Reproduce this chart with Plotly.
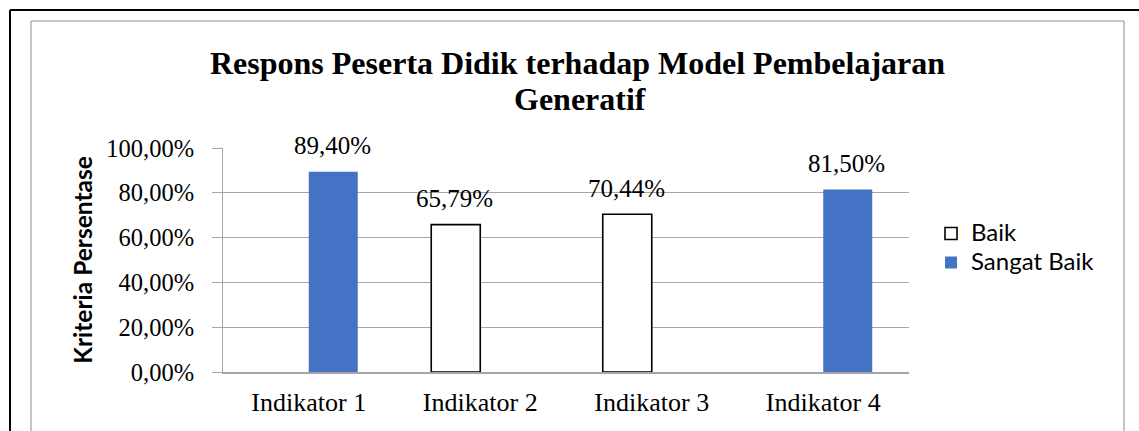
import plotly.graph_objects as go

categories = ["Indikator 1", "Indikator 2", "Indikator 3", "Indikator 4"]
baik = [None, 0.6579, 0.7044, None]
sangat_baik = [0.894, None, None, 0.815]
y_ticks = [0, 0.2, 0.4, 0.6, 0.8, 1.0]
title_line1 = "Respons Peserta Didik terhadap Model Pembelajaran"
title_line2 = "Generatif"
y_title = "Kriteria Persentase"

W, H = 1139, 431
L, R, T, B = 223, 230, 148, 59
PW, PH = W - L - R, H - T - B
BARGAP = 0.4286

def px(xp):
    return (xp - L) / PW

def py(yp):
    return (H - B - yp) / PH

SERIF = "Liberation Serif, Times New Roman, serif"
SANS = "Lato, Noto Sans, sans-serif"
BLUE = "#4472C4"
GRID = "#A6A6A6"

fig = go.Figure()
fig.add_trace(go.Bar(
    name="<span style='font-size:24px'>Baik</span>", x=categories, y=baik,
    marker=dict(color="white", line=dict(color="black", width=1.6)),
))
fig.add_trace(go.Bar(
    name="<span style='font-size:24px'>Sangat Baik</span>", x=categories, y=sangat_baik,
    marker=dict(color=BLUE, line=dict(width=0)),
))

# data labels placed above each bar (half a bar width left/right of category centre)
bar_w = PW / len(categories) * (1 - BARGAP) / 2
annotations = []
for series, shift in ((baik, -bar_w / 2), (sangat_baik, bar_w / 2)):
    for cat, v in zip(categories, series):
        if v is None:
            continue
        annotations.append(dict(
            x=cat, y=v, xref="x", yref="y", xshift=shift - 1, yshift=26,
            text=f"{v * 100:.2f}".replace(".", ",") + "%",
            showarrow=False, xanchor="center", yanchor="middle",
            font=dict(family=SERIF, size=25, color="black"),
        ))
annotations.append(dict(
    text="<b>" + title_line2 + "</b>", xref="paper", yref="paper",
    x=px(580), y=py(99), xanchor="center", yanchor="middle", showarrow=False,
    font=dict(family=SERIF, size=32, color="black"),
))

shapes = [
    dict(type="line", xref="paper", yref="paper", x0=px(10), x1=px(1139), y0=py(10), y1=py(10),
         line=dict(color="black", width=2)),
    dict(type="line", xref="paper", yref="paper", x0=px(10), x1=px(10), y0=py(10), y1=py(431),
         line=dict(color="black", width=2)),
    dict(type="rect", xref="paper", yref="paper", x0=px(31), x1=px(1124), y0=py(21), y1=py(440),
         line=dict(color="#8C8C8C", width=1)),
]

fig.update_layout(
    width=W, height=H,
    margin=dict(l=L, r=R, t=T, b=B),
    paper_bgcolor="white", plot_bgcolor="white",
    separators=",.",
    barmode="group", bargap=BARGAP, bargroupgap=0,
    title=dict(
        text="<b>" + title_line1 + "</b>",
        font=dict(family=SERIF, size=32, color="black"),
        x=577.5 / W, xanchor="center", xref="container",
        y=1 - 63 / H, yanchor="middle", yref="container",
    ),
    annotations=annotations,
    xaxis=dict(
        showline=True, linecolor=GRID, linewidth=1.5, ticks="",
        tickfont=dict(family=SERIF, size=26, color="black"),
        showgrid=False, ticklabelstandoff=6,
    ),
    yaxis=dict(
        range=[0, 1], tickvals=y_ticks, tickformat=".2%",
        showline=True, linecolor=GRID, linewidth=1,
        ticks="outside", ticklen=10, tickcolor=GRID,
        showgrid=True, gridcolor=GRID, gridwidth=1,
        tickfont=dict(family=SERIF, size=24.5, color="black"),
        ticklabelstandoff=13,
        title=dict(text="<b>" + y_title + "</b>", font=dict(family=SANS, size=24.5, color="black"),
                   standoff=6),
        zeroline=False,
    ),
    legend=dict(
        x=px(931), y=py(214), xanchor="left", yanchor="top",
        font=dict(family=SANS, size=20, color="black"),
        bgcolor="rgba(0,0,0,0)", tracegroupgap=0,
    ),
    shapes=shapes,
)

fig.write_html("out.html", config={"displayModeBar": False},
               post_script="document.body.style.margin='0';document.body.style.padding='0';")
